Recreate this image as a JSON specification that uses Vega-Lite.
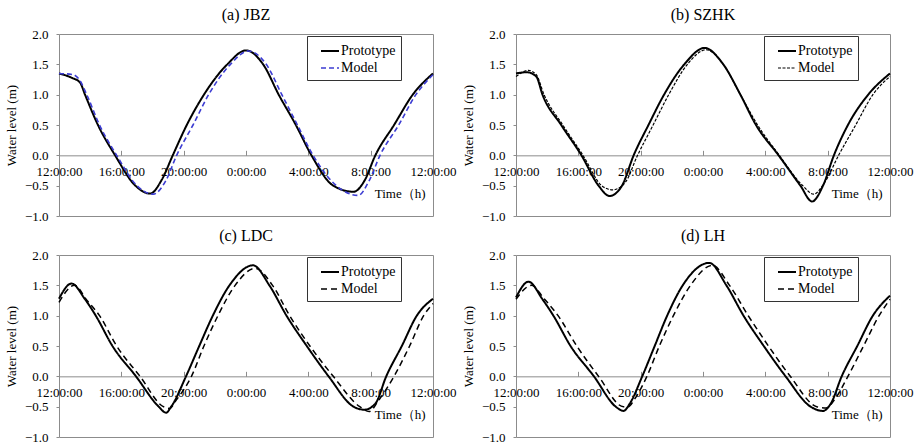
{
  "$schema": "https://vega.github.io/schema/vega-lite/v6.json",
  "padding": {"left": 4, "top": 6, "right": 0, "bottom": 0},
  "background": "white",
  "bounds": "flush",
  "columns": 2,
  "spacing": {"row": 39, "column": 83},
  "config": {
    "font": "Liberation Serif",
    "view": {"stroke": "#8c8c8c", "strokeWidth": 1},
    "title": {"font": "Liberation Serif", "fontSize": 16, "fontWeight": "normal", "color": "#000", "offset": 5},
    "axis": {"labelFont": "Liberation Serif", "titleFont": "Liberation Serif", "labelFontSize": 13, "titleFontSize": 13, "labelColor": "#000", "titleColor": "#000", "titleFontWeight": "normal", "grid": false, "domainColor": "#8c8c8c", "tickColor": "#8c8c8c"},
    "legend": {"orient": "none", "legendX": 248, "legendY": 2, "strokeColor": "#333", "fillColor": "white", "padding": 5, "labelFont": "Liberation Serif", "labelFontSize": 14, "labelColor": "#000", "symbolType": "stroke", "symbolSize": 324, "symbolOffset": 8, "labelOffset": 1, "rowPadding": -1, "title": null}
  },
  "data": {"values": [
    {"panel":"a","series":"Prototype","hour":0,"level":1.35},{"panel":"a","series":"Prototype","hour":0.8,"level":1.28},{"panel":"a","series":"Prototype","hour":1.35,"level":1.2},{"panel":"a","series":"Prototype","hour":1.67,"level":1.0},{"panel":"a","series":"Prototype","hour":2.5,"level":0.5},{"panel":"a","series":"Prototype","hour":3.6,"level":0.0},{"panel":"a","series":"Prototype","hour":4.9,"level":-0.5},{"panel":"a","series":"Prototype","hour":5.85,"level":-0.63},{"panel":"a","series":"Prototype","hour":6.6,"level":-0.4},{"panel":"a","series":"Prototype","hour":7.3,"level":0.0},{"panel":"a","series":"Prototype","hour":8.2,"level":0.5},{"panel":"a","series":"Prototype","hour":9.3,"level":1.0},{"panel":"a","series":"Prototype","hour":10.8,"level":1.5},{"panel":"a","series":"Prototype","hour":12.0,"level":1.73},{"panel":"a","series":"Prototype","hour":13.1,"level":1.5},{"panel":"a","series":"Prototype","hour":14.1,"level":1.0},{"panel":"a","series":"Prototype","hour":15.2,"level":0.5},{"panel":"a","series":"Prototype","hour":16.2,"level":0.0},{"panel":"a","series":"Prototype","hour":17.6,"level":-0.5},{"panel":"a","series":"Prototype","hour":18.9,"level":-0.6},{"panel":"a","series":"Prototype","hour":19.6,"level":-0.42},{"panel":"a","series":"Prototype","hour":20.3,"level":0.0},{"panel":"a","series":"Prototype","hour":21.5,"level":0.5},{"panel":"a","series":"Prototype","hour":22.7,"level":1.0},{"panel":"a","series":"Prototype","hour":24,"level":1.35},
    {"panel":"a","series":"Model","hour":0,"level":1.35},{"panel":"a","series":"Model","hour":0.9,"level":1.33},{"panel":"a","series":"Model","hour":1.3,"level":1.25},{"panel":"a","series":"Model","hour":1.78,"level":1.0},{"panel":"a","series":"Model","hour":2.6,"level":0.5},{"panel":"a","series":"Model","hour":3.7,"level":0.0},{"panel":"a","series":"Model","hour":5.0,"level":-0.5},{"panel":"a","series":"Model","hour":6.05,"level":-0.64},{"panel":"a","series":"Model","hour":6.85,"level":-0.42},{"panel":"a","series":"Model","hour":7.55,"level":0.0},{"panel":"a","series":"Model","hour":8.6,"level":0.5},{"panel":"a","series":"Model","hour":9.6,"level":1.0},{"panel":"a","series":"Model","hour":11.0,"level":1.5},{"panel":"a","series":"Model","hour":12.15,"level":1.72},{"panel":"a","series":"Model","hour":13.3,"level":1.5},{"panel":"a","series":"Model","hour":14.3,"level":1.0},{"panel":"a","series":"Model","hour":15.3,"level":0.5},{"panel":"a","series":"Model","hour":16.3,"level":0.0},{"panel":"a","series":"Model","hour":17.8,"level":-0.5},{"panel":"a","series":"Model","hour":19.2,"level":-0.66},{"panel":"a","series":"Model","hour":19.9,"level":-0.42},{"panel":"a","series":"Model","hour":20.6,"level":0.0},{"panel":"a","series":"Model","hour":21.8,"level":0.5},{"panel":"a","series":"Model","hour":22.9,"level":1.0},{"panel":"a","series":"Model","hour":24,"level":1.33},
    {"panel":"b","series":"Prototype","hour":0,"level":1.35},{"panel":"b","series":"Prototype","hour":0.7,"level":1.37},{"panel":"b","series":"Prototype","hour":1.3,"level":1.3},{"panel":"b","series":"Prototype","hour":1.7,"level":1.0},{"panel":"b","series":"Prototype","hour":2.9,"level":0.5},{"panel":"b","series":"Prototype","hour":4.2,"level":0.0},{"panel":"b","series":"Prototype","hour":5.3,"level":-0.5},{"panel":"b","series":"Prototype","hour":6.0,"level":-0.67},{"panel":"b","series":"Prototype","hour":6.8,"level":-0.5},{"panel":"b","series":"Prototype","hour":7.55,"level":0.0},{"panel":"b","series":"Prototype","hour":8.5,"level":0.5},{"panel":"b","series":"Prototype","hour":9.5,"level":1.0},{"panel":"b","series":"Prototype","hour":10.8,"level":1.5},{"panel":"b","series":"Prototype","hour":12.1,"level":1.77},{"panel":"b","series":"Prototype","hour":13.3,"level":1.5},{"panel":"b","series":"Prototype","hour":14.4,"level":1.0},{"panel":"b","series":"Prototype","hour":15.4,"level":0.5},{"panel":"b","series":"Prototype","hour":16.85,"level":0.0},{"panel":"b","series":"Prototype","hour":18.25,"level":-0.5},{"panel":"b","series":"Prototype","hour":19.0,"level":-0.76},{"panel":"b","series":"Prototype","hour":19.7,"level":-0.5},{"panel":"b","series":"Prototype","hour":20.4,"level":0.0},{"panel":"b","series":"Prototype","hour":21.3,"level":0.5},{"panel":"b","series":"Prototype","hour":22.6,"level":1.0},{"panel":"b","series":"Prototype","hour":24,"level":1.35},
    {"panel":"b","series":"Model","hour":0,"level":1.3},{"panel":"b","series":"Model","hour":0.8,"level":1.4},{"panel":"b","series":"Model","hour":1.3,"level":1.33},{"panel":"b","series":"Model","hour":1.8,"level":1.0},{"panel":"b","series":"Model","hour":3.0,"level":0.5},{"panel":"b","series":"Model","hour":4.3,"level":0.0},{"panel":"b","series":"Model","hour":5.5,"level":-0.5},{"panel":"b","series":"Model","hour":6.2,"level":-0.57},{"panel":"b","series":"Model","hour":7.0,"level":-0.45},{"panel":"b","series":"Model","hour":7.8,"level":0.0},{"panel":"b","series":"Model","hour":8.8,"level":0.5},{"panel":"b","series":"Model","hour":9.8,"level":1.0},{"panel":"b","series":"Model","hour":11.0,"level":1.5},{"panel":"b","series":"Model","hour":12.2,"level":1.74},{"panel":"b","series":"Model","hour":13.3,"level":1.5},{"panel":"b","series":"Model","hour":14.4,"level":1.0},{"panel":"b","series":"Model","hour":15.5,"level":0.5},{"panel":"b","series":"Model","hour":16.9,"level":0.0},{"panel":"b","series":"Model","hour":18.4,"level":-0.5},{"panel":"b","series":"Model","hour":19.1,"level":-0.64},{"panel":"b","series":"Model","hour":19.8,"level":-0.45},{"panel":"b","series":"Model","hour":20.7,"level":0.0},{"panel":"b","series":"Model","hour":21.8,"level":0.5},{"panel":"b","series":"Model","hour":22.9,"level":1.0},{"panel":"b","series":"Model","hour":24,"level":1.3},
    {"panel":"c","series":"Prototype","hour":0,"level":1.28},{"panel":"c","series":"Prototype","hour":0.8,"level":1.53},{"panel":"c","series":"Prototype","hour":1.67,"level":1.27},{"panel":"c","series":"Prototype","hour":2.36,"level":1.0},{"panel":"c","series":"Prototype","hour":3.43,"level":0.5},{"panel":"c","series":"Prototype","hour":4.94,"level":0.0},{"panel":"c","series":"Prototype","hour":6.4,"level":-0.5},{"panel":"c","series":"Prototype","hour":6.87,"level":-0.6},{"panel":"c","series":"Prototype","hour":7.2,"level":-0.5},{"panel":"c","series":"Prototype","hour":8.15,"level":0.0},{"panel":"c","series":"Prototype","hour":9.0,"level":0.5},{"panel":"c","series":"Prototype","hour":9.87,"level":1.0},{"panel":"c","series":"Prototype","hour":10.94,"level":1.5},{"panel":"c","series":"Prototype","hour":12.45,"level":1.83},{"panel":"c","series":"Prototype","hour":13.5,"level":1.5},{"panel":"c","series":"Prototype","hour":14.6,"level":1.0},{"panel":"c","series":"Prototype","hour":15.9,"level":0.5},{"panel":"c","series":"Prototype","hour":17.3,"level":0.0},{"panel":"c","series":"Prototype","hour":18.9,"level":-0.5},{"panel":"c","series":"Prototype","hour":19.6,"level":-0.55},{"panel":"c","series":"Prototype","hour":20.3,"level":-0.45},{"panel":"c","series":"Prototype","hour":21.0,"level":0.0},{"panel":"c","series":"Prototype","hour":22.0,"level":0.5},{"panel":"c","series":"Prototype","hour":22.96,"level":1.0},{"panel":"c","series":"Prototype","hour":24,"level":1.28},
    {"panel":"c","series":"Model","hour":0,"level":1.22},{"panel":"c","series":"Model","hour":1.0,"level":1.5},{"panel":"c","series":"Model","hour":1.8,"level":1.25},{"panel":"c","series":"Model","hour":2.6,"level":1.0},{"panel":"c","series":"Model","hour":3.7,"level":0.5},{"panel":"c","series":"Model","hour":5.2,"level":0.0},{"panel":"c","series":"Model","hour":6.7,"level":-0.5},{"panel":"c","series":"Model","hour":7.1,"level":-0.53},{"panel":"c","series":"Model","hour":7.5,"level":-0.4},{"panel":"c","series":"Model","hour":8.5,"level":0.0},{"panel":"c","series":"Model","hour":9.3,"level":0.5},{"panel":"c","series":"Model","hour":10.2,"level":1.0},{"panel":"c","series":"Model","hour":11.3,"level":1.5},{"panel":"c","series":"Model","hour":12.6,"level":1.78},{"panel":"c","series":"Model","hour":13.7,"level":1.5},{"panel":"c","series":"Model","hour":14.8,"level":1.0},{"panel":"c","series":"Model","hour":16.1,"level":0.5},{"panel":"c","series":"Model","hour":17.6,"level":0.0},{"panel":"c","series":"Model","hour":19.3,"level":-0.5},{"panel":"c","series":"Model","hour":19.9,"level":-0.58},{"panel":"c","series":"Model","hour":20.5,"level":-0.4},{"panel":"c","series":"Model","hour":21.5,"level":0.0},{"panel":"c","series":"Model","hour":22.5,"level":0.5},{"panel":"c","series":"Model","hour":23.4,"level":1.0},{"panel":"c","series":"Model","hour":24,"level":1.2},
    {"panel":"d","series":"Prototype","hour":0,"level":1.3},{"panel":"d","series":"Prototype","hour":0.8,"level":1.56},{"panel":"d","series":"Prototype","hour":1.7,"level":1.27},{"panel":"d","series":"Prototype","hour":2.4,"level":1.0},{"panel":"d","series":"Prototype","hour":3.5,"level":0.5},{"panel":"d","series":"Prototype","hour":5.0,"level":0.0},{"panel":"d","series":"Prototype","hour":6.4,"level":-0.5},{"panel":"d","series":"Prototype","hour":6.9,"level":-0.57},{"panel":"d","series":"Prototype","hour":7.3,"level":-0.45},{"panel":"d","series":"Prototype","hour":8.1,"level":0.0},{"panel":"d","series":"Prototype","hour":8.9,"level":0.5},{"panel":"d","series":"Prototype","hour":9.7,"level":1.0},{"panel":"d","series":"Prototype","hour":10.7,"level":1.5},{"panel":"d","series":"Prototype","hour":12.4,"level":1.87},{"panel":"d","series":"Prototype","hour":13.5,"level":1.5},{"panel":"d","series":"Prototype","hour":14.6,"level":1.0},{"panel":"d","series":"Prototype","hour":15.9,"level":0.5},{"panel":"d","series":"Prototype","hour":17.3,"level":0.0},{"panel":"d","series":"Prototype","hour":18.9,"level":-0.5},{"panel":"d","series":"Prototype","hour":19.7,"level":-0.57},{"panel":"d","series":"Prototype","hour":20.2,"level":-0.45},{"panel":"d","series":"Prototype","hour":20.9,"level":0.0},{"panel":"d","series":"Prototype","hour":21.9,"level":0.5},{"panel":"d","series":"Prototype","hour":22.9,"level":1.0},{"panel":"d","series":"Prototype","hour":24,"level":1.33},
    {"panel":"d","series":"Model","hour":0,"level":1.27},{"panel":"d","series":"Model","hour":1.0,"level":1.5},{"panel":"d","series":"Model","hour":1.8,"level":1.28},{"panel":"d","series":"Model","hour":2.7,"level":1.0},{"panel":"d","series":"Model","hour":3.9,"level":0.5},{"panel":"d","series":"Model","hour":5.3,"level":0.0},{"panel":"d","series":"Model","hour":6.9,"level":-0.5},{"panel":"d","series":"Model","hour":7.2,"level":-0.5},{"panel":"d","series":"Model","hour":7.6,"level":-0.38},{"panel":"d","series":"Model","hour":8.4,"level":0.0},{"panel":"d","series":"Model","hour":9.2,"level":0.5},{"panel":"d","series":"Model","hour":10.1,"level":1.0},{"panel":"d","series":"Model","hour":11.2,"level":1.5},{"panel":"d","series":"Model","hour":12.6,"level":1.83},{"panel":"d","series":"Model","hour":13.7,"level":1.5},{"panel":"d","series":"Model","hour":14.9,"level":1.0},{"panel":"d","series":"Model","hour":16.2,"level":0.5},{"panel":"d","series":"Model","hour":17.6,"level":0.0},{"panel":"d","series":"Model","hour":19.3,"level":-0.5},{"panel":"d","series":"Model","hour":19.9,"level":-0.52},{"panel":"d","series":"Model","hour":20.4,"level":-0.4},{"panel":"d","series":"Model","hour":21.3,"level":0.0},{"panel":"d","series":"Model","hour":22.3,"level":0.5},{"panel":"d","series":"Model","hour":23.3,"level":1.0},{"panel":"d","series":"Model","hour":24,"level":1.27}
  ]},
  "resolve": {"scale": {"color": "independent", "strokeDash": "independent", "strokeWidth": "independent"}},
  "concat": [
    {
      "title": "(a) JBZ", "width": 374, "height": 182,
      "transform": [{"filter": "datum.panel === 'a'"}],
      "mark": {"type": "line", "interpolate": "monotone"},
      "encoding": {
        "x": {"field": "hour", "type": "quantitative", "scale": {"domain": [0, 24], "nice": false}, "axis": {"values": [0, 4, 8, 12, 16, 20, 24], "labelExpr": "['12:00:00','16:00:00','20:00:00','0:00:00','4:00:00','8:00:00','12:00:00'][datum.value / 4]", "offset": -60.67, "tickSize": -5, "labelPadding": 15, "labelFlush": false, "labelBound": false, "labelOverlap": false, "title": "Time（h)", "titleX": 366, "titleY": 38, "titleAlign": "right", "titleBaseline": "middle"}},
        "y": {"field": "level", "type": "quantitative", "scale": {"domain": [-1, 2], "nice": false, "zero": false}, "axis": {"values": [-1, -0.5, 0, 0.5, 1, 1.5, 2], "format": ".1f", "title": "Water level (m)", "tickSize": 3, "labelPadding": 8, "titlePadding": 6, "domain": false}},
        "color": {"field": "series", "type": "nominal", "scale": {"domain": ["Prototype", "Model"], "range": ["#000000", "#3c3cd2"]}},
        "strokeDash": {"field": "series", "type": "nominal", "scale": {"domain": ["Prototype", "Model"], "range": [[1, 0], [5, 3]]}},
        "strokeWidth": {"field": "series", "type": "nominal", "scale": {"domain": ["Prototype", "Model"], "range": [2, 1.6]}}
      }
    },
    {
      "title": "(b) SZHK", "width": 374, "height": 182,
      "transform": [{"filter": "datum.panel === 'b'"}],
      "mark": {"type": "line", "interpolate": "monotone"},
      "encoding": {
        "x": {"field": "hour", "type": "quantitative", "scale": {"domain": [0, 24], "nice": false}, "axis": {"values": [0, 4, 8, 12, 16, 20, 24], "labelExpr": "['12:00:00','16:00:00','20:00:00','0:00:00','4:00:00','8:00:00','12:00:00'][datum.value / 4]", "offset": -60.67, "tickSize": -5, "labelPadding": 15, "labelFlush": false, "labelBound": false, "labelOverlap": false, "title": "Time（h)", "titleX": 366, "titleY": 38, "titleAlign": "right", "titleBaseline": "middle"}},
        "y": {"field": "level", "type": "quantitative", "scale": {"domain": [-1, 2], "nice": false, "zero": false}, "axis": {"values": [-1, -0.5, 0, 0.5, 1, 1.5, 2], "format": ".1f", "title": "Water level (m)", "tickSize": 3, "labelPadding": 8, "titlePadding": 6, "domain": false}},
        "color": {"field": "series", "type": "nominal", "scale": {"domain": ["Prototype", "Model"], "range": ["#000000", "#000000"]}},
        "strokeDash": {"field": "series", "type": "nominal", "scale": {"domain": ["Prototype", "Model"], "range": [[1, 0], [3, 1.5]]}},
        "strokeWidth": {"field": "series", "type": "nominal", "scale": {"domain": ["Prototype", "Model"], "range": [2, 1.2]}}
      }
    },
    {
      "title": "(c) LDC", "width": 374, "height": 182,
      "transform": [{"filter": "datum.panel === 'c'"}],
      "mark": {"type": "line", "interpolate": "monotone"},
      "encoding": {
        "x": {"field": "hour", "type": "quantitative", "scale": {"domain": [0, 24], "nice": false}, "axis": {"values": [0, 4, 8, 12, 16, 20, 24], "labelExpr": "['12:00:00','16:00:00','20:00:00','0:00:00','4:00:00','8:00:00','12:00:00'][datum.value / 4]", "offset": -60.67, "tickSize": -5, "labelPadding": 15, "labelFlush": false, "labelBound": false, "labelOverlap": false, "title": "Time（h)", "titleX": 366, "titleY": 38, "titleAlign": "right", "titleBaseline": "middle"}},
        "y": {"field": "level", "type": "quantitative", "scale": {"domain": [-1, 2], "nice": false, "zero": false}, "axis": {"values": [-1, -0.5, 0, 0.5, 1, 1.5, 2], "format": ".1f", "title": "Water level (m)", "tickSize": 3, "labelPadding": 8, "titlePadding": 6, "domain": false}},
        "color": {"field": "series", "type": "nominal", "scale": {"domain": ["Prototype", "Model"], "range": ["#000000", "#000000"]}},
        "strokeDash": {"field": "series", "type": "nominal", "scale": {"domain": ["Prototype", "Model"], "range": [[1, 0], [6, 4]]}},
        "strokeWidth": {"field": "series", "type": "nominal", "scale": {"domain": ["Prototype", "Model"], "range": [2, 1.5]}}
      }
    },
    {
      "title": "(d) LH", "width": 374, "height": 182,
      "transform": [{"filter": "datum.panel === 'd'"}],
      "mark": {"type": "line", "interpolate": "monotone"},
      "encoding": {
        "x": {"field": "hour", "type": "quantitative", "scale": {"domain": [0, 24], "nice": false}, "axis": {"values": [0, 4, 8, 12, 16, 20, 24], "labelExpr": "['12:00:00','16:00:00','20:00:00','0:00:00','4:00:00','8:00:00','12:00:00'][datum.value / 4]", "offset": -60.67, "tickSize": -5, "labelPadding": 15, "labelFlush": false, "labelBound": false, "labelOverlap": false, "title": "Time（h)", "titleX": 366, "titleY": 38, "titleAlign": "right", "titleBaseline": "middle"}},
        "y": {"field": "level", "type": "quantitative", "scale": {"domain": [-1, 2], "nice": false, "zero": false}, "axis": {"values": [-1, -0.5, 0, 0.5, 1, 1.5, 2], "format": ".1f", "title": "Water level (m)", "tickSize": 3, "labelPadding": 8, "titlePadding": 6, "domain": false}},
        "color": {"field": "series", "type": "nominal", "scale": {"domain": ["Prototype", "Model"], "range": ["#000000", "#000000"]}},
        "strokeDash": {"field": "series", "type": "nominal", "scale": {"domain": ["Prototype", "Model"], "range": [[1, 0], [6, 4]]}},
        "strokeWidth": {"field": "series", "type": "nominal", "scale": {"domain": ["Prototype", "Model"], "range": [2, 1.5]}}
      }
    }
  ]
}
